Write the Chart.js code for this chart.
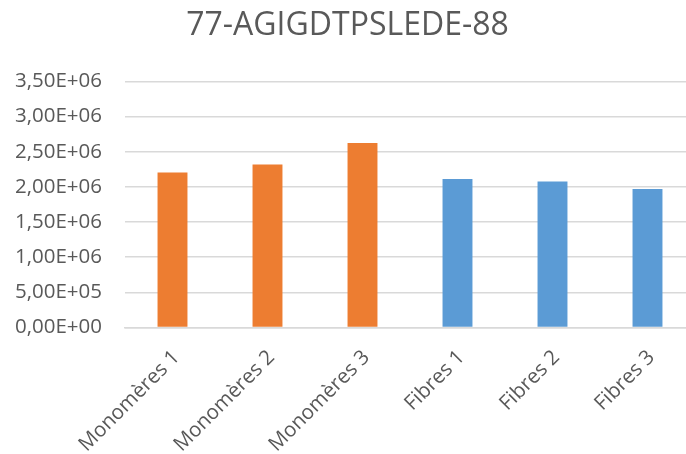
<!DOCTYPE html>
<html>
<head>
<meta charset="utf-8">
<script src="https://cdn.jsdelivr.net/npm/chart.js@4/dist/chart.umd.min.js"></script>
<style>
  html, body { margin: 0; padding: 0; background: #ffffff; overflow: hidden; width: 686px; height: 454px; }
  #wrap { width: 700px; height: 454px; }
</style>
</head>
<body>
<div id="wrap"><canvas id="c" width="700" height="454"></canvas></div>
<script>
const chartTitle = '77-AGIGDTPSLEDE-88';
const categories = ['Monomères 1', 'Monomères 2', 'Monomères 3', 'Fibres 1', 'Fibres 2', 'Fibres 3'];
const values = [2204000, 2317000, 2624000, 2113000, 2076000, 1971000];
const yTickValues = [0, 500000, 1000000, 1500000, 2000000, 2500000, 3000000, 3500000];
const yTickLabels = ['0,00E+00', '5,00E+05', '1,00E+06', '1,50E+06', '2,00E+06', '2,50E+06', '3,00E+06', '3,50E+06'];

const ORANGE = '#ED7D31';
const BLUE = '#5B9BD5';
const barColors = [ORANGE, ORANGE, ORANGE, BLUE, BLUE, BLUE];
const textColor = '#595959';
const gridColor = '#d9d9d9';
const FONT = "'Open Sans', 'Liberation Sans', sans-serif";

new Chart(document.getElementById('c'), {
  type: 'bar',
  data: {
    labels: categories,
    datasets: [{
      data: values,
      backgroundColor: barColors,
      borderWidth: 0,
      categoryPercentage: 1,
      barPercentage: 0.315
    }]
  },
  options: {
    responsive: false,
    animation: false,
    devicePixelRatio: 1,
    layout: { padding: { left: 0, right: 5, top: 0, bottom: 0 } },
    plugins: {
      legend: { display: false },
      tooltip: { enabled: false },
      title: {
        display: true,
        text: chartTitle,
        color: textColor,
        font: { family: FONT, size: 32, weight: 'normal', lineHeight: 1.2 },
        padding: { top: 7, bottom: 36 }
      }
    },
    scales: {
      x: {
        grid: { display: false, drawTicks: false },
        border: { display: true, color: gridColor, width: 1.5 },
        ticks: {
          color: textColor,
          font: { family: FONT, size: 20.5 },
          maxRotation: 45,
          minRotation: 45,
          padding: 18,
          labelOffset: 4,
          autoSkip: false
        },
        afterFit: (s) => { s.height = 126.5; }
      },
      y: {
        min: 0,
        max: 3500000,
        grid: { color: gridColor, lineWidth: 1.5, drawTicks: false },
        border: { display: false },
        afterBuildTicks: (s) => { s.ticks = yTickValues.map(v => ({ value: v })); },
        ticks: {
          color: textColor,
          font: { family: FONT, size: 20.5 },
          padding: 23,
          callback: (v) => { const i = yTickValues.indexOf(v); return i >= 0 ? yTickLabels[i] : ''; }
        },
        afterFit: (s) => { s.width = 125; }
      }
    }
  }
});
</script>
</body>
</html>
